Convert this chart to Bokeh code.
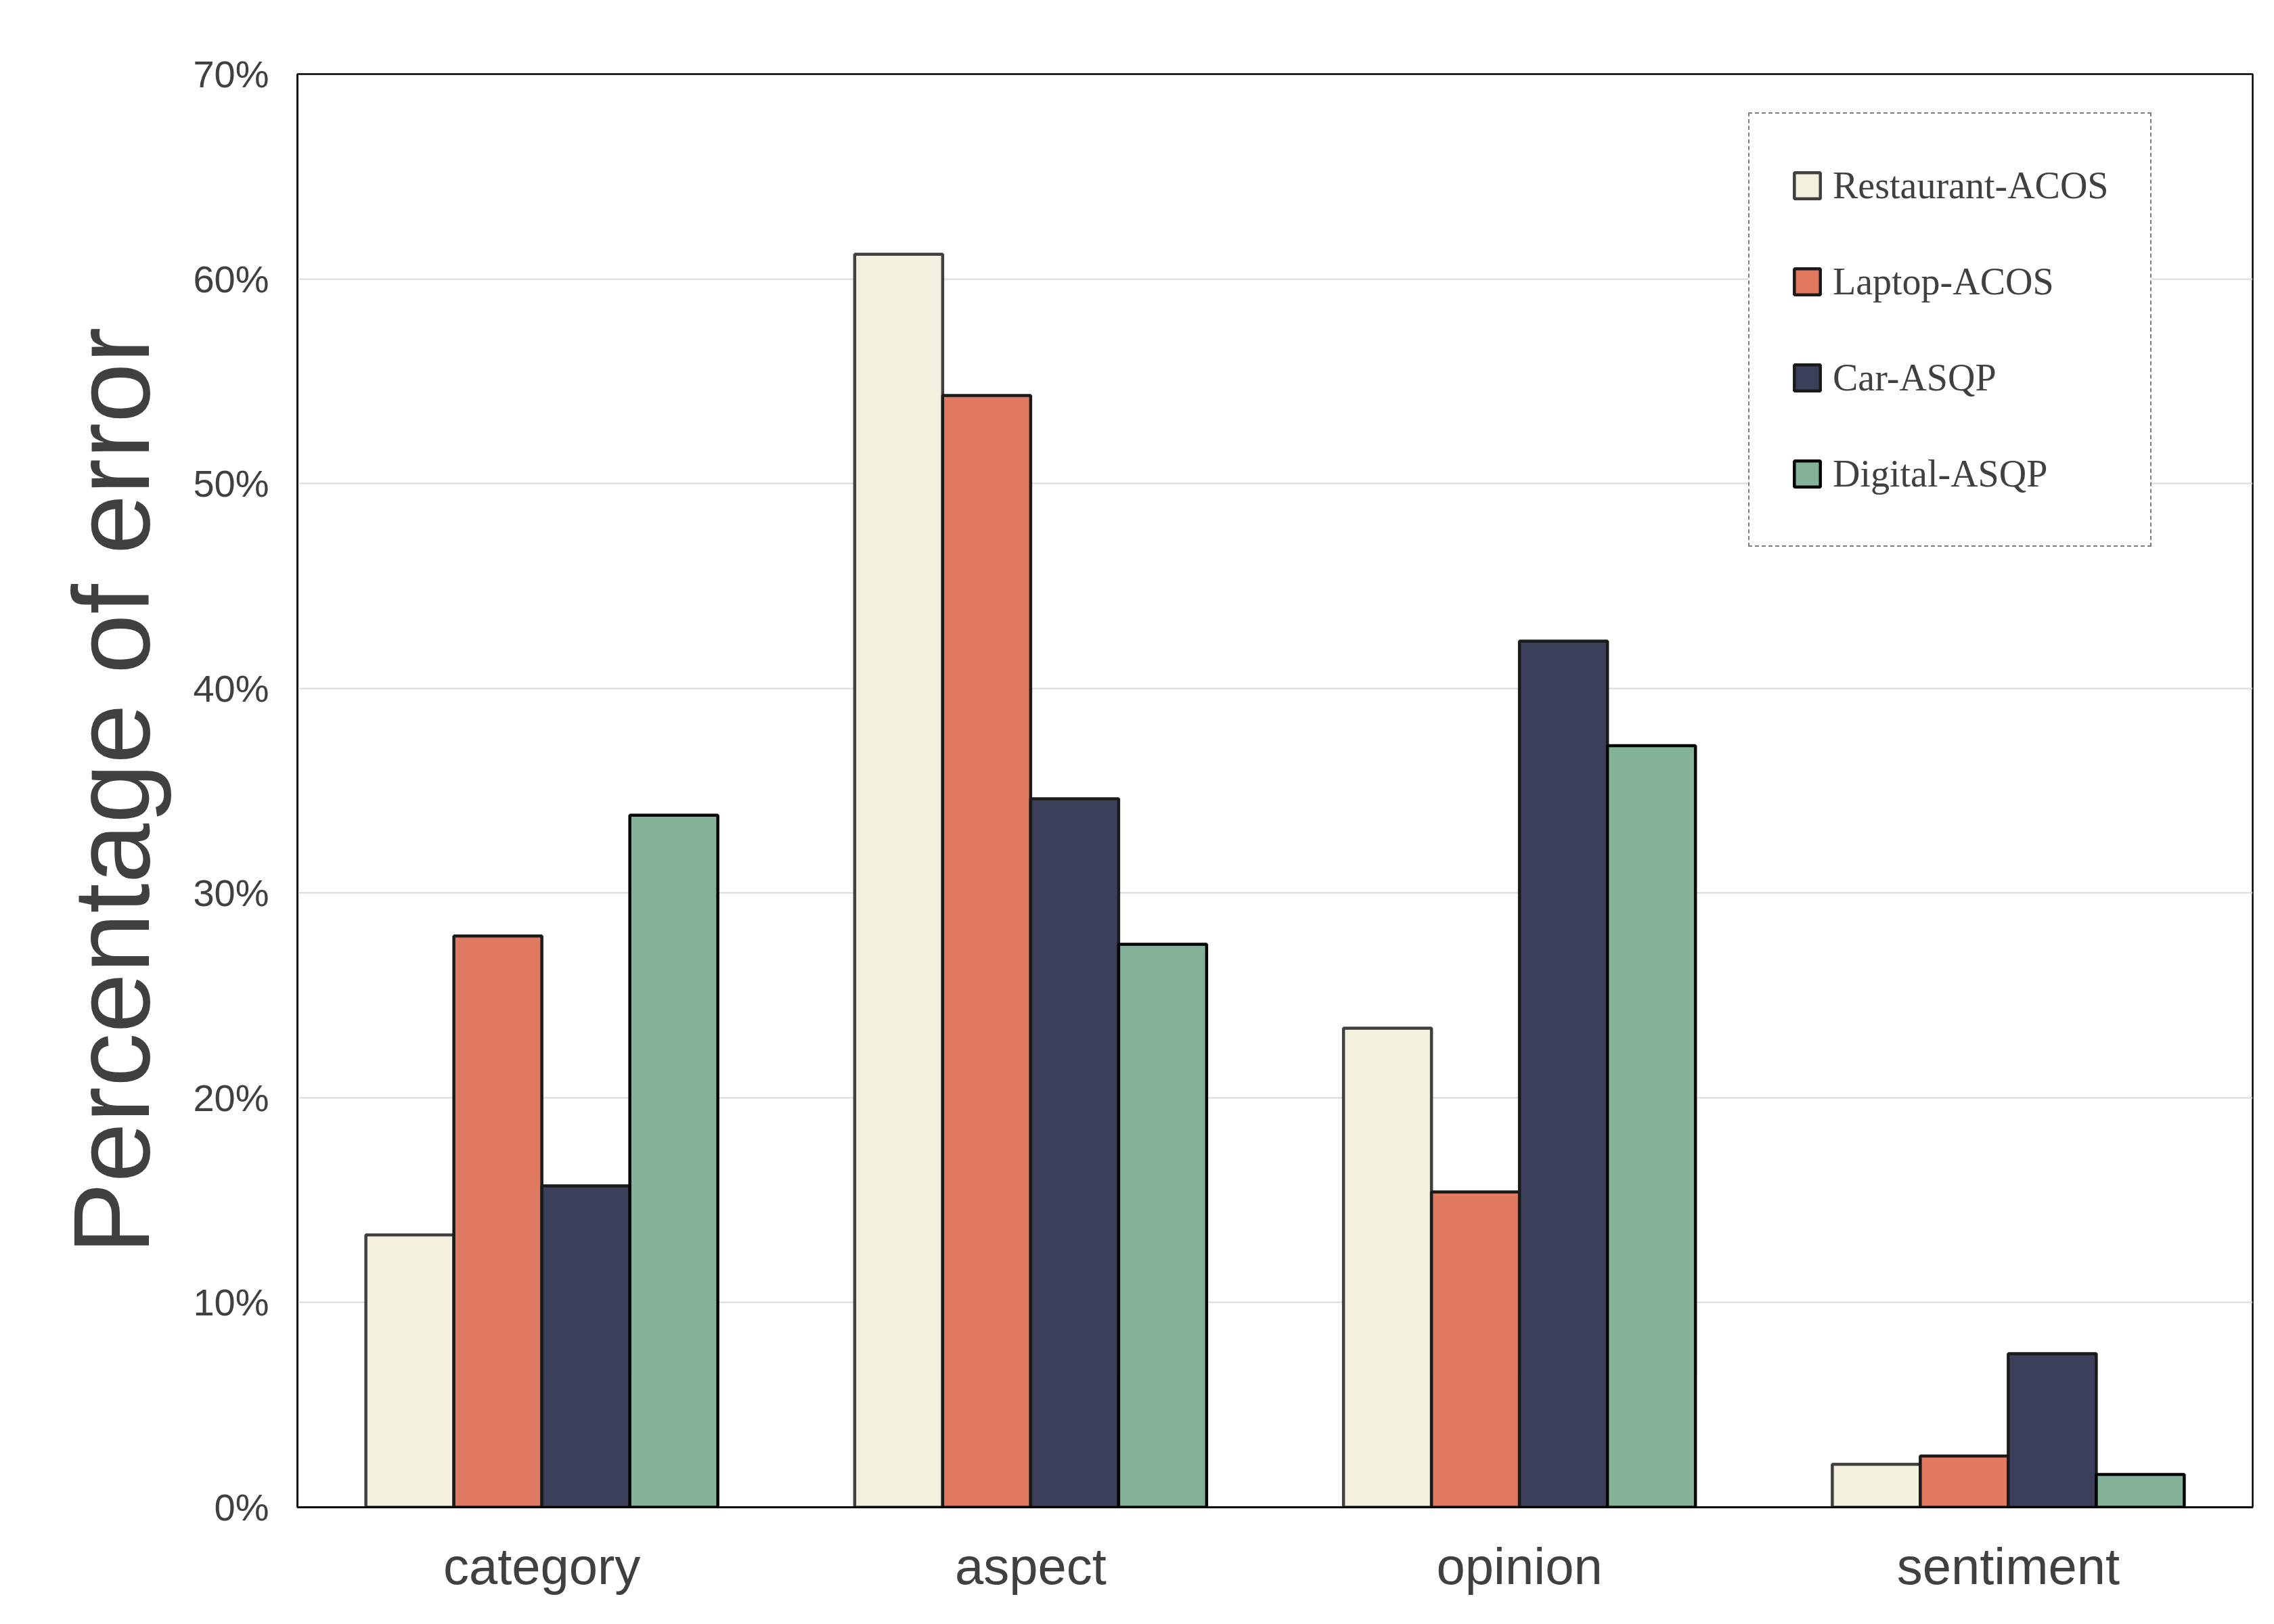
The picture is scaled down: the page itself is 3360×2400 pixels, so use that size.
from bokeh.plotting import figure
from bokeh.models import ColumnDataSource, FactorRange, FixedTicker, PrintfTickFormatter, Legend, LegendItem
from bokeh.transform import dodge
from bokeh.embed import file_html
from bokeh.resources import INLINE

categories = ["category", "aspect", "opinion", "sentiment"]
series_names = ["Restaurant-ACOS", "Laptop-ACOS", "Car-ASQP", "Digital-ASQP"]
restaurant = [13.3, 61.2, 23.4, 2.1]
laptop = [27.9, 54.3, 15.4, 2.5]
car = [15.7, 34.6, 42.3, 7.5]
digital = [33.8, 27.5, 37.2, 1.6]
y_ticks = [0, 10, 20, 30, 40, 50, 60, 70]

fills = ["#F3F0DF", "#DF7A60", "#3C3F5A", "#84B39A"]
lines = ["#404040", "#1a1a1a", "#1a1a1a", "#050505"]

src = ColumnDataSource(dict(cat=categories, r=restaurant, l=laptop, c=car, d=digital))
cols = ["r", "l", "c", "d"]

W, H = 3344, 2384
p = figure(width=W, height=H, x_range=FactorRange(factors=categories, range_padding=0),
           y_range=(0, 70), output_backend="svg", toolbar_location=None,
           min_border_left=439, min_border_right=16, min_border_top=109, min_border_bottom=157)

bar_w = 0.18
n = len(cols)
items = []
for i, col in enumerate(cols):
    off = (i - (n - 1) / 2) * bar_w
    r = p.vbar(x=dodge("cat", off, range=p.x_range), top=col, width=bar_w, bottom=0, source=src,
               fill_color=fills[i], line_color=lines[i], line_width=4.5)
    items.append(LegendItem(label=series_names[i], renderers=[r]))

text_color = "#404040"
sans = "Liberation Sans"

p.yaxis.ticker = FixedTicker(ticks=y_ticks)
p.yaxis.formatter = PrintfTickFormatter(format="%d%%")
p.yaxis.major_label_text_font = sans
p.yaxis.major_label_text_font_size = "56px"
p.yaxis.major_label_text_color = text_color
p.yaxis.major_label_standoff = 36
p.yaxis.axis_label = "Percentage of error"
p.yaxis.axis_label_text_font = sans
p.yaxis.axis_label_text_font_size = "159px"
p.yaxis.axis_label_text_font_style = "normal"
p.yaxis.axis_label_text_color = text_color
p.yaxis.axis_label_standoff = 28
p.yaxis.axis_line_color = "black"
p.yaxis.axis_line_width = 2.5
p.yaxis.major_tick_line_color = None
p.yaxis.minor_tick_line_color = None

p.xaxis.major_label_text_font = sans
p.xaxis.major_label_text_font_size = "76px"
p.xaxis.major_label_text_color = text_color
p.xaxis.major_label_standoff = 38
p.xaxis.axis_line_color = "black"
p.xaxis.axis_line_width = 3
p.xaxis.major_tick_line_color = None
p.xaxis.minor_tick_line_color = None

p.xgrid.grid_line_color = None
p.ygrid.grid_line_color = "#d9d9d9"
p.ygrid.grid_line_width = 2
p.outline_line_color = "black"
p.outline_line_width = 2.5
p.outline_line_alpha = 1

legend = Legend(items=items, location=(2144, 1419))
legend.label_text_font = "Liberation Serif"
legend.label_text_font_size = "56px"
legend.label_text_color = text_color
legend.glyph_width = 48
legend.glyph_height = 48
legend.label_height = 90
legend.label_standoff = 14
legend.spacing = 52
legend.padding = 61
legend.margin = 0
legend.border_line_color = "black"
legend.border_line_width = 2
legend.border_line_dash = "2 2"
legend.background_fill_color = "white"
legend.background_fill_alpha = 1
p.add_layout(legend, "center")

open("out.html", "w").write(file_html(p, INLINE))
